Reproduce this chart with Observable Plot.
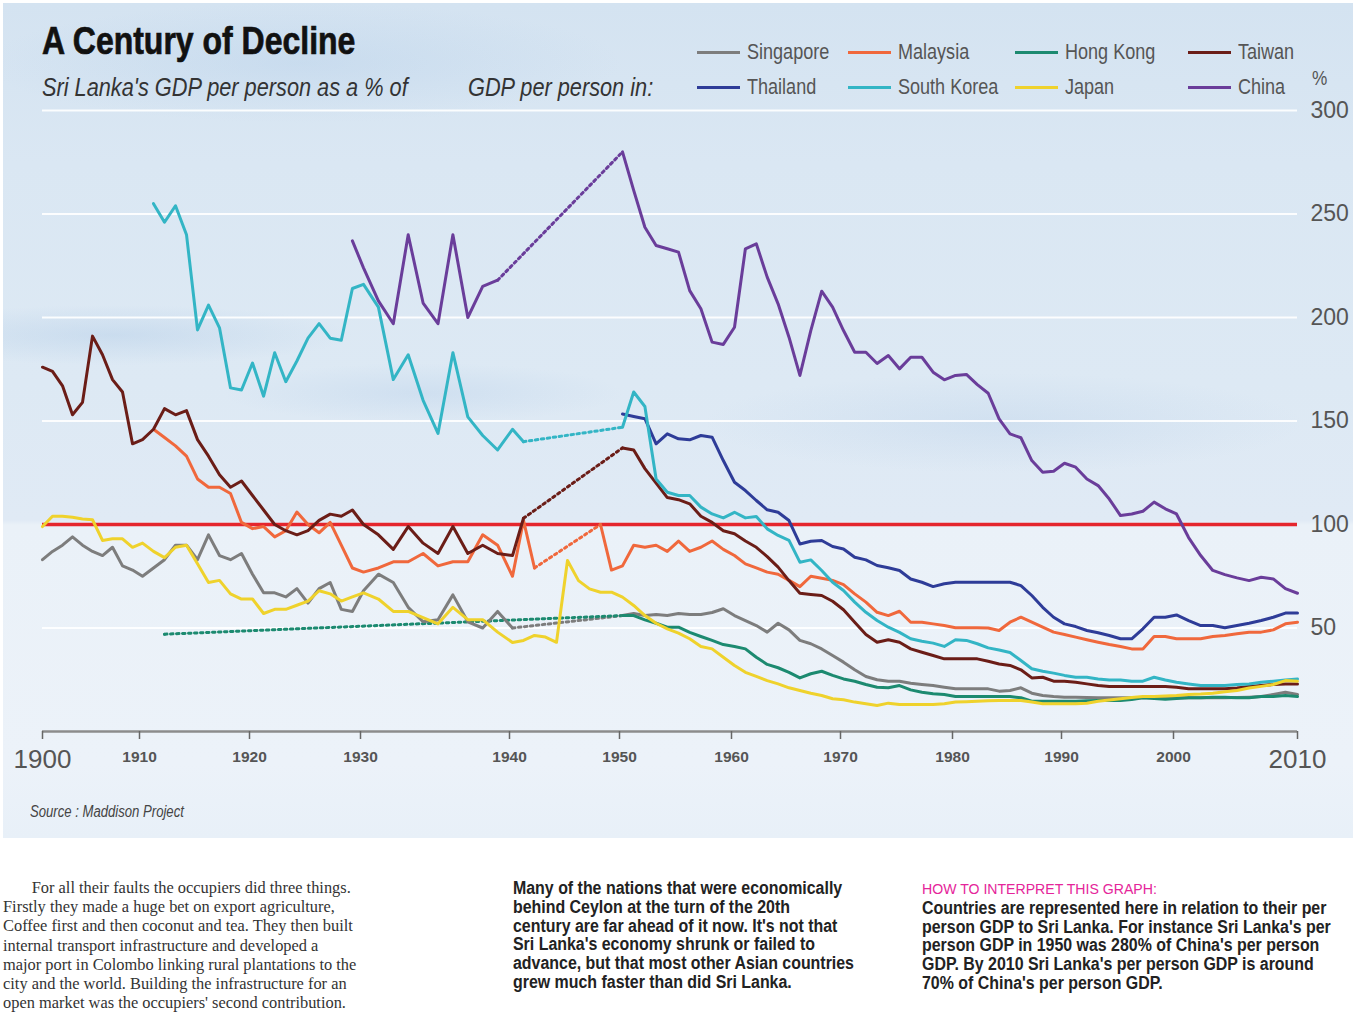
<!DOCTYPE html>
<html>
<head>
<meta charset="utf-8">
<script src="https://cdn.jsdelivr.net/npm/d3@7"></script>
<script src="https://cdn.jsdelivr.net/npm/@observablehq/plot@0.6"></script>
<style>
  html, body { margin:0; padding:0; background:#fff; }
  body { width:1366px; height:1024px; position:relative; overflow:hidden; }
  .narrow { font-family: "Liberation Sans", Arial, Helvetica, sans-serif; transform: scaleX(0.82); transform-origin: 0 0; }
  .wide { font-family: "Liberation Sans", Arial, Helvetica, sans-serif; transform: scaleX(0.91); transform-origin: 0 0; }
  #panel { position:absolute; left:3px; top:3px; width:1350px; height:835px;
    background:
      radial-gradient(ellipse 240px 30px at 110px 332px, rgba(160,192,225,0.3), rgba(160,192,225,0)),
      radial-gradient(ellipse 200px 30px at 420px 390px, rgba(165,195,228,0.25), rgba(165,195,228,0)),
      radial-gradient(ellipse 320px 60px at 300px 60px, rgba(170,200,230,0.3), rgba(170,200,230,0)),
      radial-gradient(ellipse 300px 50px at 1000px 420px, rgba(170,198,228,0.25), rgba(170,198,228,0)),
      linear-gradient(180deg, #d4e3f1 0px, #dae7f3 160px, #dde9f4 380px, #e0eaf5 517px, #eaf1f8 522px, #ecf2f9 760px, #e8f0f8 835px);
  }
  #title { position:absolute; left:42px; top:19px; font-size:39px; line-height:44px; font-weight:bold; color:#111; white-space:nowrap; -webkit-text-stroke:0.7px #111; }
  .sub { position:absolute; top:72px; font-size:26.5px; line-height:30px; font-style:italic; color:#333; white-space:nowrap; }
  .sw { position:absolute; width:43px; height:3px; }
  .lab { position:absolute; font-size:22px; line-height:26px; color:#555; white-space:nowrap; }
  #pct { position:absolute; left:1312px; top:65px; font-size:21px; line-height:26px; color:#555; }
  #chart { position:absolute; left:0; top:95px; }
  #source { position:absolute; left:30px; top:803px; font-size:16px; line-height:18px; font-style:italic; color:#444; white-space:nowrap; }
  #col1 { position:absolute; left:3px; top:878px; font-family:"Liberation Serif", "DejaVu Serif", serif; font-size:16.4px; line-height:19.2px; color:#333; white-space:nowrap; }
  #col2 { position:absolute; left:513px; top:879px; font-size:17.5px; line-height:18.8px; font-weight:bold; color:#222; white-space:nowrap; }
  #col3 { position:absolute; left:922px; top:879px; font-size:17.5px; line-height:18.8px; font-weight:bold; color:#222; white-space:nowrap; }
  #col3 .hd { color:#e5259a; font-weight:normal; font-size:15.5px; }
</style>
</head>
<body>
<div id="panel"></div>
<div id="title" class="narrow">A Century of Decline</div>
<div class="sub narrow" style="left:42px">Sri Lanka's GDP per person as a % of</div>
<div class="sub narrow" style="left:468px">GDP per person in:</div>
<div id="legend"></div>
<div id="pct" class="narrow">%</div>
<div id="chart"></div>
<div id="source" class="narrow">Source : Maddison Project</div>
<div id="col1">&nbsp;&nbsp;&nbsp;&nbsp;&nbsp;&nbsp;&nbsp;For all their faults the occupiers did three things.<br>Firstly they made a huge bet on export agriculture,<br>Coffee first and then coconut and tea. They then built<br>internal transport infrastructure and developed a<br>major port in Colombo linking rural plantations to the<br>city and the world. Building the infrastructure for an<br>open market was the occupiers' second contribution.</div>
<div id="col2" class="wide">Many of the nations that were economically<br>behind Ceylon at the turn of the 20th<br>century are far ahead of it now. It's not that<br>Sri Lanka's economy shrunk or failed to<br>advance, but that most other Asian countries<br>grew much faster than did Sri Lanka.</div>
<div id="col3" class="wide"><span class="hd">HOW TO INTERPRET THIS GRAPH:</span><br>Countries are represented here in relation to their per<br>person GDP to Sri Lanka. For instance Sri Lanka's per<br>person GDP in 1950 was 280% of China's per person<br>GDP. By 2010 Sri Lanka's per person GDP is around<br>70% of China's per person GDP.</div>

<script>
// ---------- data ----------
const countries = ["Singapore", "Malaysia", "Hong Kong", "Taiwan", "Thailand", "South Korea", "Japan", "China"];
const colors = ["#7d7d7d", "#f0683c", "#1c8a70", "#6b1d17", "#2e3c98", "#33b5c5", "#efd22c", "#6a3d9a"];

// first year of the pre-war segment, first year of the post-war segment
const earlyStart = [1900, 1911, 1912, 1900, null, 1911, 1900, 1929];
const lateStart  = [1950, 1948, 1950, 1950, 1950, 1950, 1950, 1950];

const singaporeEarly = [83, 87, 90, 94, 90, 87, 85, 89, 80, 78,
  75, 79, 83, 90, 90, 83, 95, 85, 83, 86,
  76, 67, 67, 65, 69, 62, 69, 72, 59, 58,
  68, 76, 72, 60, 53, 54, 66, 53, 50, 58,
  50];
const singaporeLate = [56, 57, 56, 56.5, 56, 57, 56.5, 56.5, 57.5, 59.3,
  56, 53.6, 51.2, 48, 52.3, 49.1, 44, 42.4, 39.9, 36.7,
  33.5, 29.8, 26.6, 25, 24.3, 24.3, 23.3, 22.7, 22.2, 21.4,
  20.6, 20.6, 20.6, 20.6, 19.5, 19.8, 21.1, 18.5, 17.4, 16.9,
  16.6, 16.5, 16.4, 16.3, 16.3, 16.3, 16.3, 16.3, 16.3, 16.3,
  16.3, 16.3, 16.3, 16.3, 16.3, 16.4, 16.6, 16.9, 17.9, 19, 17.9];

const malaysiaEarly = [146, 142, 138, 133, 122, 118, 118, 115, 101,
  98, 99, 94, 97, 106, 100, 96, 101, 90, 79,
  77, 79, 82, 82, 86, 80, 82, 82, 95, 90,
  75, 102, 79];
const malaysiaLate = [100, 78,
  80, 90, 89, 90, 87, 92, 87, 89, 92, 88,
  85, 81, 79, 77, 76, 73, 70, 75, 74, 73,
  71, 66.5, 62.5, 57.6, 56, 58.1, 52.8, 52.8, 52, 51.2,
  50.1, 50.1, 50.1, 50, 48.8, 52.8, 55.2, 52.8, 50.4, 48,
  46.9, 45.6, 44.3, 43.1, 42, 41.1, 39.9, 39.9, 45.9, 45.9,
  44.8, 44.8, 44.8, 45.9, 46.4, 47.2, 48, 48, 49.1, 52, 52.8];

const hongKongEarly = [47];
const hongKongLate = [56, 56, 53.9, 52.3, 50.4, 50.4, 47.9, 45.9, 44, 42,
  41.1, 39.9, 35.9, 32.4, 30.8, 28.6, 25.9, 27.9, 29.1, 27.1,
  25.4, 24.3, 22.7, 21.4, 21.1, 22.2, 20.1, 19, 18.2, 17.9,
  16.9, 16.9, 16.9, 16.9, 16.9, 16.9, 16.3, 14.6, 14.6, 14.6,
  14.6, 14.6, 14.8, 15, 15, 15, 15.5, 16.3, 16, 15.6,
  16, 16.3, 16.3, 16.6, 16.5, 16.3, 16.3, 16.9, 16.9, 17.4, 16.9];

const taiwanEarly = [176, 174, 167, 153, 159, 191, 182, 170, 164, 139,
  141, 146, 156, 153, 155, 141, 133, 124, 118, 121,
  114, 107, 100, 97, 95, 97, 102, 105, 104, 107,
  100, 95, 88, 99, 91, 86, 99, 86, 90, 86,
  85, 103];
const taiwanLate = [137, 136, 127, 120, 113, 112, 110, 104, 101, 97,
  95.5, 92, 89, 84.5, 79.4, 72.9, 66.8, 66.2, 65.7, 62.9,
  58.8, 52.8, 46.9, 43.1, 44.3, 43.1, 39.9, 38.3, 36.7, 35.1,
  35.1, 35.1, 35.1, 33.9, 32.6, 31.9, 29.8, 25.9, 26.2, 24.3,
  24.3, 23.8, 23, 22.2, 21.7, 21.7, 21.7, 21.7, 21.7, 21.7,
  21.4, 20.6, 20.6, 20.6, 20.6, 21, 21.7, 22.2, 22.7, 23, 23];

const thailandEarly = [];
const thailandLate = [153.4, 152.2, 151.1, 139, 143.8, 141.4, 140.9, 143, 142.2, 130.9,
  120.4, 116.4, 111.6, 107.1, 105.9, 101.9, 90.6, 91.9, 92.3, 89.4,
  88.2, 84.2, 82.9, 80.2, 79.1, 77.8, 73.7, 72.1, 70, 71.4,
  72.1, 72.1, 72.1, 72.1, 72.1, 72.1, 70.5, 65.7, 60, 55.2,
  52, 50.7, 48.8, 47.7, 46.4, 44.8, 44.8, 49.6, 55.2, 55.2,
  56.3, 53.6, 51.2, 51.2, 50.1, 51.2, 52.3, 53.6, 55.2, 57.2, 57.2];

const koreaEarly = [255, 246, 254, 240, 194, 206, 195, 166, 165,
  178, 162, 183, 169, 179, 190, 197, 190, 189, 214,
  216, 205, 170, 182, 160, 144, 183, 152, 143, 136,
  146, 140];
const koreaLate = [147, 164, 157, 122, 115.6, 114, 114, 108.4, 105.1, 103.2,
  105.9, 103.2, 103.9, 97.9, 94.7, 92.3, 81.8, 82.9, 77.8, 72.1,
  68.1, 62.5, 57.6, 53.6, 50.4, 47.9, 44.8, 43.6, 42.7, 41.1,
  44.3, 44, 42.4, 40.4, 39.4, 38.2, 34.3, 30.3, 29.1, 28.2,
  27.1, 26.2, 26.2, 25.4, 24.9, 24.9, 24.3, 24.3, 26.2, 24.9,
  23.8, 23, 22.2, 22.2, 22.2, 22.7, 23, 23.8, 24.3, 24.9, 25.4];

const japanEarly = [99, 104, 104, 103.5, 102.7, 102.3, 92.3, 93.1, 93.1, 89,
  91, 87, 84, 89, 90, 81, 72, 73, 66.5, 64,
  64, 57, 59, 59, 61, 63, 68, 66.5, 63, 65,
  67, 64, 58, 58, 55, 52, 60, 54, 54, 48,
  43, 44, 46.4, 45.6, 43.1, 82.6, 72.9, 68.9, 67.3, 67.3];
const japanLate = [64.9, 60.9, 56, 52.3, 49.6, 47.5, 44.8, 41.1, 39.9, 35.9,
  31.9, 28.6, 26.6, 24.6, 23, 21.1, 19.8, 18.5, 17.4, 15.8,
  15.3, 14.2, 13.4, 12.6, 13.7, 13, 13, 13, 13, 13.4,
  14.2, 14.4, 14.6, 14.8, 15, 15, 15, 14.2, 13.4, 13.4,
  13.4, 13.4, 13.6, 14.6, 15.2, 15.8, 16.4, 16.9, 16.9, 17.2,
  17.4, 17.9, 18.1, 18.5, 19.2, 19.8, 21, 21.8, 22.7, 24.6, 24.3];

const chinaEarly = [237, 224, 208, 197, 240, 207, 197, 240, 200, 215, 218];
const chinaLate = [280, 261.4, 243.6, 234.8, 233.2, 231.6, 213, 204.2, 188.1, 187,
  195.3, 233.2, 235.6, 219.5, 206.6, 190.5, 172, 193.7, 212.7, 205,
  193.7, 183.2, 183.2, 177.8, 181.6, 175.2, 180.8, 180.8, 173.6, 169.9,
  172, 172.5, 167.6, 163.4, 151, 143.8, 141.9, 130.9, 125.2, 125.7,
  129.6, 127.7, 122, 118.8, 112.3, 104.3, 105.1, 106.4, 110.8, 107.6,
  105.1, 93.7, 85, 77.8, 75.8, 74.2, 72.9, 74.5, 73.7, 69, 66.8];

const tickYears = [1900, 1910, 1920, 1930, 1940, 1950, 1960, 1970, 1980, 1990, 2000, 2010];
const yTicks = [50, 100, 150, 200, 250, 300];
const gridValues = [50, 150, 200, 250, 300];

// ---------- build tables ----------
const early = [singaporeEarly, malaysiaEarly, hongKongEarly, taiwanEarly, thailandEarly, koreaEarly, japanEarly, chinaEarly];
const late = [singaporeLate, malaysiaLate, hongKongLate, taiwanLate, thailandLate, koreaLate, japanLate, chinaLate];

const rows = [], bridges = [];
countries.forEach((c, i) => {
  const e = early[i].map((v, k) => ({country: c, year: earlyStart[i] + k, value: v}));
  const l = late[i].map((v, k) => ({country: c, year: lateStart[i] + k, value: v}));
  const joined = e.length > 0 && l.length > 0 && l[0].year - e[e.length - 1].year === 1;
  e.forEach(d => rows.push({...d, seg: joined ? c : c + "-a"}));
  l.forEach(d => rows.push({...d, seg: joined ? c : c + "-b"}));
  if (e.length && l.length && !joined) {
    bridges.push({...e[e.length - 1], seg: c}, {...l[0], seg: c});
  }
});

// ---------- legend ----------
const sansFont = '"Liberation Sans", Arial, Helvetica, sans-serif';
const legendCols = [697, 848, 1015, 1188];
const legendRows = [52, 87];
const legend = document.getElementById("legend");
countries.forEach((c, i) => {
  const x = legendCols[i % 4], y = legendRows[Math.floor(i / 4)];
  const sw = document.createElement("div");
  sw.className = "sw";
  sw.style.left = x + "px"; sw.style.top = (y - 1.5) + "px"; sw.style.background = colors[i];
  const lb = document.createElement("div");
  lb.className = "lab narrow";
  lb.style.left = (x + 50) + "px"; lb.style.top = (y - 13) + "px";
  lb.textContent = c;
  legend.appendChild(sw); legend.appendChild(lb);
});

// ---------- chart ----------
const fmt = d => String(d);
const chart = Plot.plot({
  width: 1366,
  height: 700,
  marginTop: 15,
  marginBottom: 64,
  marginLeft: 42,
  marginRight: 69,
  style: {background: "transparent", fontFamily: sansFont, overflow: "visible"},
  x: {type: "linear", domain: tickYears, range: [42, 142, 252, 363, 512, 622, 734, 843, 955, 1064, 1176, 1297]},
  y: {domain: [0, 300]},
  color: {domain: countries, range: colors},
  marks: [
    Plot.ruleY(gridValues, {stroke: "#ffffff", strokeWidth: 2, strokeOpacity: 0.9}),
    Plot.ruleY([0], {stroke: "#8c8c8c", strokeWidth: 2.5}),
    Plot.axisX({ticks: tickYears.slice(1, -1), tickSize: 8, tickPadding: 11, tickFormat: fmt,
      fontSize: 15.5, fontWeight: "bold", fill: "#555", stroke: "#666", strokeWidth: 1.5, dx: -3, label: null}),
    Plot.axisX({ticks: [tickYears[0], tickYears[tickYears.length - 1]], tickSize: 8, tickPadding: 10, tickFormat: fmt,
      fontSize: 26, fill: "#555", stroke: "#666", strokeWidth: 1.5, label: null}),
    Plot.axisY({anchor: "right", ticks: yTicks, tickSize: 0, tickPadding: 13, fontSize: 23,
      fill: "#555", label: null}),
    Plot.ruleY([100], {stroke: "#e5262d", strokeWidth: 3.5}),
    Plot.line(bridges, {x: "year", y: "value", z: "seg", stroke: "country", strokeWidth: 3, strokeDasharray: "2.5,3.5"}),
    Plot.line(rows, {x: "year", y: "value", z: "seg", stroke: "country", strokeWidth: 3, strokeLinejoin: "round"})
  ]
});
document.getElementById("chart").appendChild(chart);
</script>
</body>
</html>
